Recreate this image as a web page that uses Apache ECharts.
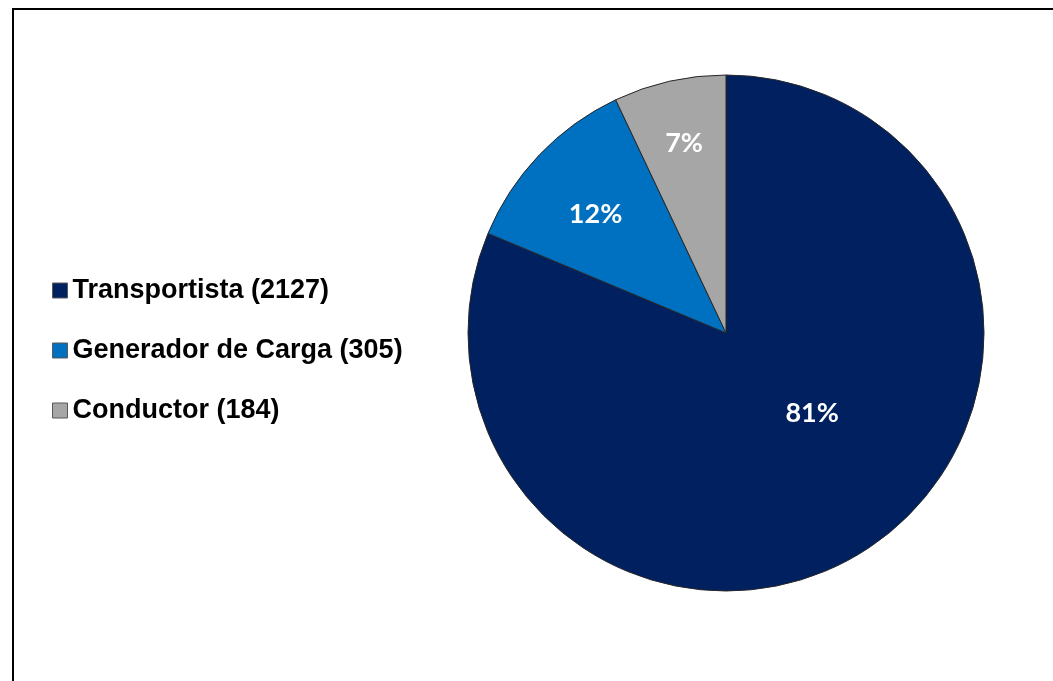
<!DOCTYPE html>
<html>
<head>
<meta charset="utf-8">
<script src="https://cdn.jsdelivr.net/npm/echarts@6/dist/echarts.min.js"></script>
<style>
    html, body { margin: 0; padding: 0; overflow: hidden; background: #fff; }
    #chart { position: absolute; left: 0; top: 0; width: 1053px; height: 681px; }
    #frame { position: absolute; left: 12px; top: 8px; width: 1100px; height: 800px; border: 2px solid #000; pointer-events: none; }
</style>
</head>
<body>
<div id="chart"></div>
<div id="frame"></div>
<script>
// Data
const categories = ['Transportista', 'Generador de Carga', 'Conductor'];
const counts = [2127, 305, 184];
const percentLabels = ['81%', '12%', '7%'];

const colors = ['#002060', '#0070C0', '#A6A6A6'];
// nudge labels to where the original (Excel "best fit") placed them
const labelOffsets = [[13, -30], [-35, -28], [-13, -61]];

const chart = echarts.init(document.getElementById('chart'));

const seriesData = categories.map((name, i) => ({
    name: name,
    value: counts[i],
    itemStyle: { color: colors[i] },
    label: { offset: labelOffsets[i] }
}));

const option = {
    animation: false,
    legend: {
        orient: 'vertical',
        left: 52,
        top: 277,
        padding: 0,
        itemGap: 33,
        itemWidth: 15,
        itemHeight: 15,
        icon: 'rect',
        itemStyle: { borderColor: '#595959', borderWidth: 1 },
        formatter: (name) => `${name} (${counts[categories.indexOf(name)]})`,
        textStyle: {
            fontFamily: 'Liberation Sans, Arial, sans-serif',
            fontWeight: 'bold',
            fontSize: 27,
            color: '#000',
            padding: [0, 0, 0, 0]
        },
        data: categories
    },
    series: [
        {
            type: 'pie',
            center: [726, 333],
            radius: 258,
            startAngle: 90,
            clockwise: true,
            itemStyle: { borderColor: '#262626', borderWidth: 1 },
            label: {
                show: true,
                position: 'inside',
                formatter: (p) => percentLabels[p.dataIndex],
                color: '#fff',
                fontFamily: 'Lato, sans-serif',
                fontWeight: 'bold',
                fontSize: 27
            },
            labelLine: { show: false },
            emphasis: { disabled: true },
            data: seriesData
        }
    ]
};

chart.setOption(option);
</script>
</body>
</html>
